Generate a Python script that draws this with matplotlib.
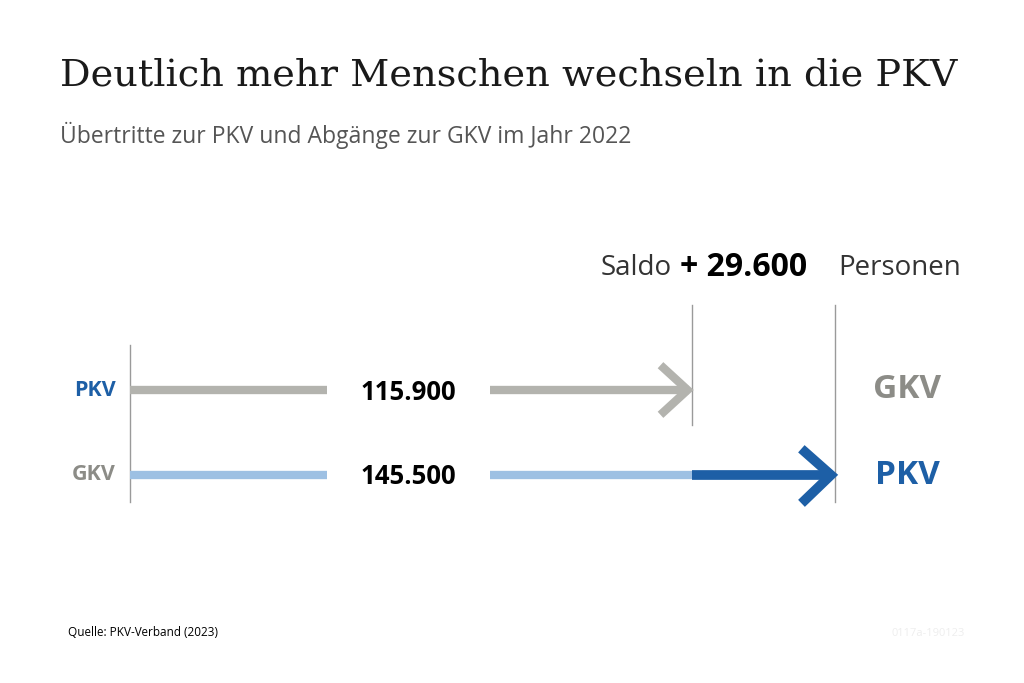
import matplotlib
matplotlib.use("Agg")
import matplotlib.pyplot as plt

values = [115.9, 145.5]          # thousand persons
labels_left = ["PKV", "GKV"]
labels_right = ["GKV", "PKV"]
value_text = ["115.900", "145.500"]
saldo = "29.600"

GRAY = "#b3b3ae"; LBLUE = "#9dc0e3"; DBLUE = "#1d5fa6"; TXTG = "#8c8c87"; LINE = "#9a9a9a"

fig = plt.figure(figsize=(10.24, 6.83), dpi=100)
ax = fig.add_axes([0, 0, 1, 1])
scale = 705 / values[1]
ax.set_xlim(-130 / scale, (1024 - 130) / scale)
ax.set_ylim(683, 0)
ax.axis("off")
px = 1 / scale

ys = [390, 475]
ax.plot([0, 0], [345, 502], color=LINE, lw=1)
ax.plot([values[0], values[0]], [305, 425], color=LINE, lw=1)
ax.plot([values[1], values[1]], [305, 502], color=LINE, lw=1)

gap0, gap1 = 197 * px, 360 * px
ax.plot([0, gap0], [ys[0]] * 2, color=GRAY, lw=6, solid_capstyle="butt")
ax.plot([gap1, values[0] - 3 * px], [ys[0]] * 2, color=GRAY, lw=6, solid_capstyle="butt")
ax.plot([values[0] - 28 * px, values[0] - 4 * px, values[0] - 28 * px], [368, ys[0], 412],
        color=GRAY, lw=6, solid_joinstyle="miter")
ax.plot([0, gap0], [ys[1]] * 2, color=LBLUE, lw=6, solid_capstyle="butt")
ax.plot([gap1, values[0]], [ys[1]] * 2, color=LBLUE, lw=6, solid_capstyle="butt")
ax.plot([values[0], values[1] - 5 * px], [ys[1]] * 2, color=DBLUE, lw=7, solid_capstyle="butt")
ax.plot([values[1] - 30 * px, values[1] - 4 * px, values[1] - 30 * px], [452, ys[1], 500],
        color=DBLUE, lw=7, solid_joinstyle="miter")

mid = (gap0 + gap1) / 2
for y, t in zip(ys, value_text):
    ax.text(mid, y + 2, t, ha="center", va="center", fontsize=18.5, fontweight="bold", family="Open Sans")
for y, t, c in zip(ys, labels_left, [DBLUE, TXTG]):
    ax.text(-14 * px, y, t, ha="right", va="center", fontsize=15.5, fontweight="bold", color=c, family="Open Sans")
for y, t, c in zip(ys, labels_right, [TXTG, DBLUE]):
    ax.text(values[1] + 72 * px, y, t, ha="center", va="center", fontsize=24, fontweight="bold", color=c, family="Open Sans")

ax.text(values[0] - 20 * px, 268, "Saldo", ha="right", va="center", fontsize=20, color="#333333", family="Open Sans")
ax.text(values[0] - 12 * px, 268, "+ " + saldo, ha="left", va="center", fontsize=23, fontweight="bold", family="Open Sans")
ax.text(values[1] + 3 * px, 268, "Personen", ha="left", va="center", fontsize=20, color="#333333", family="Open Sans")

fig.text(60 / 1024, 1 - 75 / 683, "Deutlich mehr Menschen wechseln in die PKV", fontsize=27.5,
         family="DejaVu Serif", va="center", color="#1a1a1a")
fig.text(60 / 1024, 1 - 135 / 683, "Übertritte zur PKV und Abgänge zur GKV im Jahr 2022", fontsize=16.5,
         family="Open Sans", va="center", color="#555555")
fig.text(68 / 1024, 1 - 633 / 683, "Quelle: PKV-Verband (2023)", fontsize=8.5, family="Open Sans", va="center")
fig.text(965 / 1024, 1 - 633 / 683, "0117a-190123", fontsize=8, family="Open Sans", va="center", ha="right", color="#eeeeee")
fig.savefig("out.png", dpi=100, facecolor="white")
